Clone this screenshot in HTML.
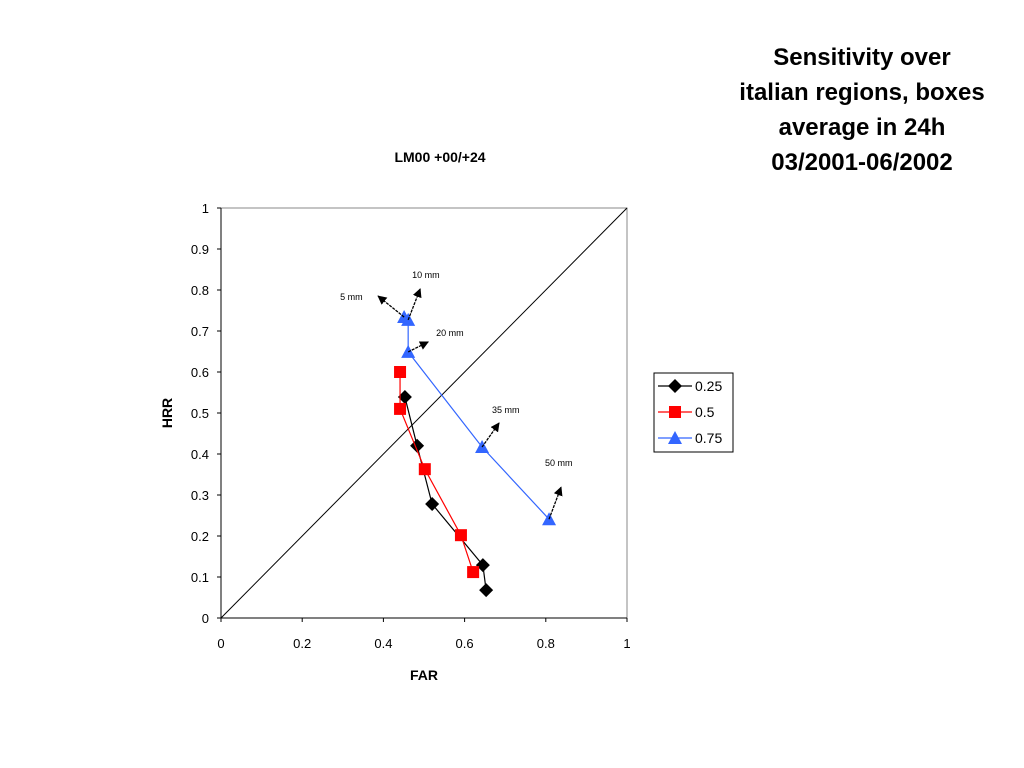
<!DOCTYPE html>
<html><head><meta charset="utf-8"><style>
html,body{margin:0;padding:0;background:#fff;width:1024px;height:768px;overflow:hidden}
.t{position:absolute;left:700px;width:324px;text-align:center;font:bold 24px "Liberation Sans",sans-serif;color:#000}
</style></head><body>
<div class="t" style="top:40px;line-height:35px">Sensitivity over<br>italian regions, boxes<br>average in 24h<br>03/2001-06/2002</div>
<svg id="c" width="1024" height="768" style="position:absolute;left:0;top:0"></svg>
<script>
const seriesNames=["0.25","0.5","0.75"];
const farBlack=[0.453,0.483,0.520,0.645,0.653];
const hrrBlack=[0.539,0.420,0.278,0.129,0.068];
const farRed=[0.441,0.441,0.502,0.591,0.621];
const hrrRed=[0.600,0.510,0.363,0.202,0.112];
const farBlue=[0.451,0.461,0.461,0.643,0.808];
const hrrBlue=[0.734,0.727,0.649,0.417,0.241];
const thresholdLabels=["5 mm","10 mm","20 mm","35 mm","50 mm"];
const xTicks=[0,0.2,0.4,0.6,0.8,1];
const yTicks=[0,0.1,0.2,0.3,0.4,0.5,0.6,0.7,0.8,0.9,1];
const X0=221,X1=627,Y0=618,Y1=208;
const sx=v=>X0+(X1-X0)*v, sy=v=>Y0-(Y0-Y1)*v;
const svg=document.getElementById('c');const NS='http://www.w3.org/2000/svg';
function mk(t,a,p){const e=document.createElementNS(NS,t);for(const k in a)e.setAttribute(k,a[k]);(p||svg).appendChild(e);return e;}
function txt(s,x,y,a){const e=mk('text',Object.assign({x:x,y:y,'font-family':'Liberation Sans, sans-serif','font-size':13},a));e.textContent=s;return e;}
let e;
e=txt("LM00 +00/+24",440,162,{'text-anchor':'middle','font-weight':'bold','font-size':14});


e=mk('rect',{x:X0,y:Y1,width:X1-X0,height:Y0-Y1,fill:'none',stroke:'#888','stroke-width':1});


e=mk('line',{x1:X0,y1:Y1,x2:X0,y2:Y0+1,stroke:'#000'});


e=mk('line',{x1:X0,y1:Y0,x2:X1,y2:Y0,stroke:'#000'});


yTicks.forEach(v=>{mk('line',{x1:X0-4,x2:X0,y1:sy(v),y2:sy(v),stroke:'#000'});
 e=txt(String(v),X0-12,sy(v)+5,{'text-anchor':'end'});
 
 });
xTicks.forEach(v=>{mk('line',{x1:sx(v),x2:sx(v),y1:Y0,y2:Y0+4,stroke:'#000'});
 e=txt(String(v),sx(v),Y0+30,{'text-anchor':'middle'});
 
 });
e=txt("FAR",424,680,{'text-anchor':'middle','font-weight':'bold','font-size':14});


e=txt("HRR",0,0,{'text-anchor':'middle','font-weight':'bold','font-size':14,transform:'translate(172,413) rotate(-90)'});


e=mk('line',{x1:sx(0),y1:sy(0),x2:sx(1),y2:sy(1),stroke:'#000','stroke-width':1});


function marker(kind,x,y,col,g){
 if(kind==='d')return mk('polygon',{points:`${x},${y-7} ${x+7},${y} ${x},${y+7} ${x-7},${y}`,fill:col},g);
 if(kind==='s')return mk('rect',{x:x-6,y:y-6,width:12,height:12,fill:col},g);
 return mk('polygon',{points:`${x},${y-7} ${x+7},${y+6} ${x-7},${y+6}`,fill:col},g);}
const S=[[farBlack,hrrBlack,'#000','d','series-0.25'],[farRed,hrrRed,'#f00','s','series-0.5'],[farBlue,hrrBlue,'#36f','t','series-0.75']];
S.forEach(s=>{const g=mk('g',{});
 mk('polyline',{points:s[0].map((v,i)=>sx(v)+','+sy(s[1][i])).join(' '),fill:'none',stroke:s[2],'stroke-width':1.2},g);
 s[0].forEach((v,i)=>{const m=marker(s[3],sx(v),sy(s[1][i]),s[2],g);
  
  });});
// annotation arrows (offsets in px from blue points)
const arrowOff=[[-26,-21],[12,-31],[20,-10],[17,-24],[12,-32]];
const labelOff=[[-64,-17],[4,-42],[28,-16],[10,-34],[-4,-53]];
mk('defs',{}).innerHTML='<marker id="ah" viewBox="0 0 10 10" refX="9" refY="5" markerWidth="7" markerHeight="7" orient="auto"><path d="M0,0L10,5L0,10z" fill="#000"/></marker>';
thresholdLabels.forEach((l,i)=>{const x=sx(farBlue[i]),y=sy(hrrBlue[i]);
 e=mk('line',{x1:x,y1:y,x2:x+arrowOff[i][0],y2:y+arrowOff[i][1],stroke:'#000','stroke-width':1.3,'stroke-dasharray':'3,1','marker-end':'url(#ah)'});
 
 
 e=txt(l,x+labelOff[i][0],y+labelOff[i][1],{'font-size':9});
 
 });
// legend
const lg=mk('g',{});
mk('rect',{x:654,y:373,width:79,height:79,fill:'#fff',stroke:'#000'},lg);
S.forEach((s,i)=>{const y=386+i*26;const g=mk('g',{},lg);
 
 
 mk('line',{x1:658,x2:692,y1:y,y2:y,stroke:s[2],'stroke-width':1.2},g);
 marker(s[3],675,y,s[2],g);
 txt(seriesNames[i],695,y+5,{'font-size':14},g);});
</script>
</body></html>
